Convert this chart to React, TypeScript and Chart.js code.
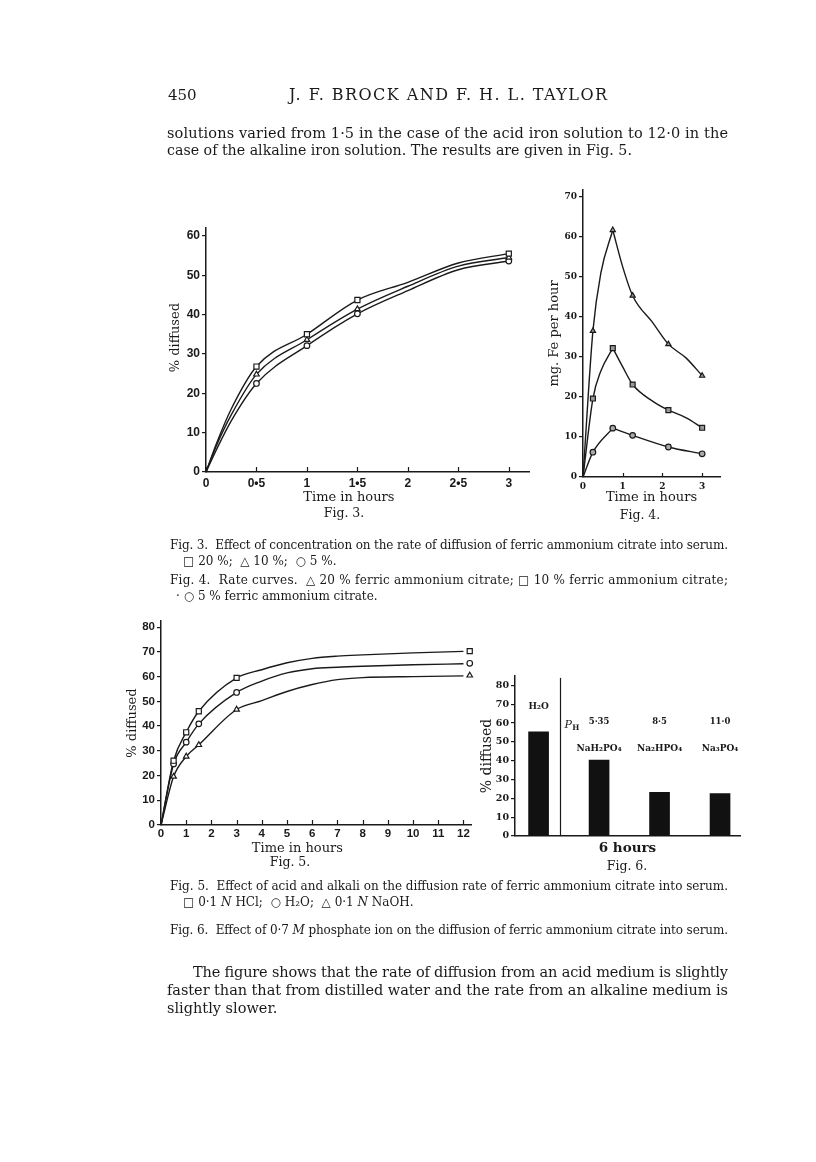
import React, { useEffect, useRef } from "react";
import { Chart, registerables } from "chart.js";

Chart.register(...registerables);

// ---------------- Fig. 3 data ----------------
const fig3XTicks = [0, 0.5, 1, 1.5, 2, 2.5, 3];
const fig3XTickLabels = ["0", "0•5", "1", "1•5", "2", "2•5", "3"];
const fig3YTicks = [0, 10, 20, 30, 40, 50, 60];
const fig3CurveX = [0, 0.1, 0.25, 0.5, 1, 1.5, 2, 2.5, 3];
const fig3Curve20 = [0, 7, 16, 26.8, 35, 43.7, 48.2, 53.1, 55.5];
const fig3Curve10 = [0, 6.5, 14.5, 24.8, 33.6, 41.4, 47.2, 52.3, 54.5];
const fig3Curve5 = [0, 5.5, 13, 22.5, 32.1, 40.2, 46.1, 51.4, 53.6];
const fig3PointX = [0.5, 1, 1.5, 3];
const fig3Points20 = [26.8, 35, 43.7, 55.5];
const fig3Points10 = [24.8, 33.6, 41.4, 54.5];
const fig3Points5 = [22.5, 32.1, 40.2, 53.6];

// ---------------- Fig. 4 data ----------------
const fig4XTicks = [0, 1, 2, 3];
const fig4YTicks = [0, 10, 20, 30, 40, 50, 60, 70];
const fig4PointX = [0.25, 0.75, 1.25, 2.15, 3];
const fig4Points20 = [36.5, 61.7, 45.3, 33.2, 25.3];
const fig4Points10 = [19.6, 32.2, 23.1, 16.7, 12.3];
const fig4Points5 = [6.2, 12.2, 10.4, 7.5, 5.8];
const fig4Rise20X = [0, 0.25, 0.45, 0.75];
const fig4Rise20 = [0, 36.5, 51, 61.7];
const fig4Fall20X = [0.75, 1.0, 1.25, 1.76, 2.15, 2.6, 3];
const fig4Fall20 = [61.7, 52.5, 45.3, 38.5, 33.2, 29.7, 25.3];
const fig4Rise10X = [0, 0.25, 0.45, 0.75];
const fig4Rise10 = [0, 19.6, 26.5, 32.2];
const fig4Fall10X = [0.75, 1.0, 1.25, 1.76, 2.15, 2.6, 3];
const fig4Fall10 = [32.2, 27.5, 23.1, 18.9, 16.7, 14.8, 12.3];
const fig4Rise5X = [0, 0.25, 0.75];
const fig4Rise5 = [0, 6.2, 12.2];
const fig4Fall5X = [0.75, 1.25, 2.15, 3];
const fig4Fall5 = [12.2, 10.4, 7.5, 5.8];

// ---------------- Fig. 5 data ----------------
const fig5XTicks = [0, 1, 2, 3, 4, 5, 6, 7, 8, 9, 10, 11, 12];
const fig5YTicks = [0, 10, 20, 30, 40, 50, 60, 70, 80];
const fig5CurveX = [0, 0.5, 1, 1.5, 3, 4, 5, 6, 7, 8, 10, 12];
const fig5CurveHCl = [0, 26, 37.5, 46, 59.5, 62.8, 65.6, 67.4, 68.3, 68.8, 69.6, 70.2];
const fig5CurveH2O = [0, 24.7, 33.5, 40.9, 53.6, 58.2, 61.5, 63.2, 63.8, 64.2, 64.8, 65.2];
const fig5CurveNaOH = [0, 19.6, 27.7, 32.4, 46.7, 50.3, 54, 56.8, 58.8, 59.6, 60, 60.3];
const fig5PointX = [0.5, 1, 1.5, 3, 12.25];
const fig5PointsHCl = [26, 37.5, 46, 59.5, 70.3];
const fig5PointsH2O = [24.7, 33.5, 40.9, 53.6, 65.4];
const fig5PointsNaOH = [19.6, 27.7, 32.4, 46.7, 60.5];

// ---------------- Fig. 6 data ----------------
const fig6Categories = ["H₂O", "NaH₂PO₄", "Na₂HPO₄", "Na₃PO₄"];
const fig6Values = [55.3, 40.3, 23.2, 22.5];
const fig6PH = ["", "5·35", "8·5", "11·0"];
const fig6YTicks = [0, 10, 20, 30, 40, 50, 60, 70, 80];

const INK = "#1a1a1a";
const SERIF = "'DejaVu Serif', serif";
const SANS = "'Liberation Sans', Arial, sans-serif";

const pts = (xs: number[], ys: number[]) => xs.map((x, i) => ({ x, y: ys[i] }));

const inwardTicks = {
  id: "inwardTicks",
  afterDraw(chart: any, _args: any, opts: any) {
    if (!opts || !opts.length) return;
    const xs = chart.scales.x;
    const { ctx, chartArea } = chart;
    ctx.save();
    ctx.strokeStyle = INK;
    ctx.lineWidth = 1.2;
    for (const t of xs.ticks) {
      const px = Math.round(xs.getPixelForValue(t.value)) + 0.5;
      ctx.beginPath();
      ctx.moveTo(px, chartArea.bottom);
      ctx.lineTo(px, chartArea.bottom - opts.length);
      ctx.stroke();
    }
    ctx.restore();
  },
};

function xAxis(o: any) {
  return {
    type: "linear",
    min: o.min,
    max: o.max,
    offset: false,
    afterBuildTicks: (s: any) => {
      s.ticks = o.ticks.map((v: number) => ({ value: v }));
    },
    afterFit: (s: any) => {
      s.height = o.height;
    },
    grid: { display: false, drawTicks: false, tickLength: 0 },
    border: { display: true, color: INK, width: 1.5 },
    ticks: {
      color: INK,
      font: o.font,
      padding: o.tickPad ?? 3,
      maxRotation: 0,
      autoSkip: false,
      callback: (_v: any, i: number) => (o.labels ? o.labels[i] : String(o.ticks[i])),
    },
    title: {
      display: true,
      text: o.title,
      color: INK,
      font: o.titleFont,
      padding: { top: 0, bottom: o.titlePad },
    },
  };
}

function yAxis(o: any) {
  return {
    type: "linear",
    min: o.min,
    max: o.max,
    afterBuildTicks: (s: any) => {
      s.ticks = o.ticks.map((v: number) => ({ value: v }));
    },
    afterFit: (s: any) => {
      s.width = o.width;
    },
    grid: {
      display: true,
      drawOnChartArea: false,
      drawTicks: true,
      tickLength: 4,
      color: INK,
      lineWidth: 1.2,
    },
    border: { display: true, color: INK, width: 1.5 },
    ticks: {
      color: INK,
      font: o.font,
      padding: 2,
      autoSkip: false,
      callback: (_v: any, i: number) => String(o.ticks[i]),
    },
    title: {
      display: true,
      text: o.title,
      color: INK,
      font: o.titleFont,
      padding: { top: o.titlePad, bottom: 0 },
    },
  };
}

function curve(xs: number[], ys: number[]) {
  return {
    type: "line",
    data: pts(xs, ys),
    borderColor: INK,
    borderWidth: 1.4,
    pointRadius: 0,
    cubicInterpolationMode: "monotone",
    fill: false,
    order: 2,
    clip: false,
  };
}

function markers(xs: number[], ys: number[], style: string, r: number, fillColor: string) {
  return {
    type: "line",
    data: pts(xs, ys),
    showLine: false,
    pointStyle: style,
    pointRadius: r,
    pointBorderWidth: 1.2,
    pointBorderColor: INK,
    pointBackgroundColor: fillColor,
    order: 1,
    clip: false,
  };
}

const commonOptions = (padTop: number, padRight: number) => ({
  responsive: false,
  animation: false,
  events: [],
  layout: { padding: { top: padTop, right: padRight, left: 0, bottom: 0 } },
  plugins: { legend: { display: false }, tooltip: { enabled: false } },
});

function makeFig3() {
  const tickFont = { family: SANS, size: 12, weight: "bold" };
  const titleFont = { family: SERIF, size: 13 };
  return {
    type: "line",
    data: {
      datasets: [
        markers(fig3PointX, fig3Points20, "rect", 3.6, "#fff"),
        markers(fig3PointX, fig3Points10, "triangle", 3.2, "#fff"),
        markers(fig3PointX, fig3Points5, "circle", 2.8, "#fff"),
        curve(fig3CurveX, fig3Curve20),
        curve(fig3CurveX, fig3Curve10),
        curve(fig3CurveX, fig3Curve5),
      ],
    },
    options: {
      ...commonOptions(13, 13),
      plugins: { legend: { display: false }, tooltip: { enabled: false }, inwardTicks: { length: 5 } },
      scales: {
        x: xAxis({
          min: 0, max: 3.2, ticks: fig3XTicks, labels: fig3XTickLabels, height: 43,
          font: tickFont, tickPad: 4,
          title: "Time in hours" + "\u00a0".repeat(9), titleFont, titlePad: 9.5,
        }),
        y: yAxis({
          min: 0, max: 62, ticks: fig3YTicks, width: 56, font: tickFont,
          title: "\u00a0".repeat(6) + "% diffused", titleFont, titlePad: 18,
        }),
      },
    },
    plugins: [inwardTicks],
  };
}

function makeFig4() {
  const tickFont = { family: SERIF, size: 9, weight: "bold" };
  const titleFont = { family: SERIF, size: 13 };
  return {
    type: "line",
    data: {
      datasets: [
        markers(fig4PointX, fig4Points20, "triangle", 3, "#999"),
        markers(fig4PointX, fig4Points10, "rect", 3.5, "#999"),
        markers(fig4PointX, fig4Points5, "circle", 2.8, "#aaa"),
        curve(fig4Rise20X, fig4Rise20),
        curve(fig4Fall20X, fig4Fall20),
        curve(fig4Rise10X, fig4Rise10),
        curve(fig4Fall10X, fig4Fall10),
        curve(fig4Rise5X, fig4Rise5),
        curve(fig4Fall5X, fig4Fall5),
      ],
    },
    options: {
      ...commonOptions(10, 10),
      plugins: { legend: { display: false }, tooltip: { enabled: false }, inwardTicks: { length: 4 } },
      scales: {
        x: xAxis({
          min: 0, max: 3.45, ticks: fig4XTicks, height: 38, font: tickFont, tickPad: 4,
          title: "Time in hours", titleFont, titlePad: 10,
        }),
        y: yAxis({
          min: 0, max: 71.7, ticks: fig4YTicks, width: 43, font: tickFont,
          title: "mg. Fe per hour", titleFont, titlePad: 7,
        }),
      },
    },
    plugins: [inwardTicks],
  };
}

function makeFig5() {
  const tickFont = { family: SANS, size: 11.5, weight: "bold" };
  const titleFont = { family: SERIF, size: 13 };
  return {
    type: "line",
    data: {
      datasets: [
        markers(fig5PointX, fig5PointsHCl, "rect", 3.6, "#fff"),
        markers(fig5PointX, fig5PointsH2O, "circle", 2.8, "#fff"),
        markers(fig5PointX, fig5PointsNaOH, "triangle", 3.2, "#fff"),
        curve(fig5CurveX, fig5CurveHCl),
        curve(fig5CurveX, fig5CurveH2O),
        curve(fig5CurveX, fig5CurveNaOH),
      ],
    },
    options: {
      ...commonOptions(11, 9),
      plugins: { legend: { display: false }, tooltip: { enabled: false }, inwardTicks: { length: 5 } },
      scales: {
        x: xAxis({
          min: 0, max: 12.3, ticks: fig5XTicks, height: 36, font: tickFont, tickPad: 2,
          title: "Time in hours" + "\u00a0".repeat(9), titleFont, titlePad: 5,
        }),
        y: yAxis({
          min: 0, max: 82.5, ticks: fig5YTicks, width: 41, font: tickFont,
          title: "% diffused", titleFont, titlePad: 5,
        }),
      },
    },
    plugins: [inwardTicks],
  };
}

const fig6WaterLevel = 68.6;
const fig6PHLevel = 60.6;
const fig6NameLevel = 46.5;
const fig6DividerAt = 0.35;
const fig6DividerTop = 84;
const fig6PHLabelAt = 0.55;

const fig6Labels = {
  id: "fig6Labels",
  afterDatasetsDraw(chart: any) {
    const xs = chart.scales.x;
    const ys = chart.scales.y;
    const ctx = chart.ctx;
    ctx.save();
    ctx.fillStyle = INK;
    ctx.strokeStyle = INK;
    ctx.textAlign = "center";
    ctx.textBaseline = "middle";
    ctx.font = `bold 9px ${SERIF}`;
    ctx.fillText(fig6Categories[0], xs.getPixelForValue(0), ys.getPixelForValue(fig6WaterLevel));
    for (let i = 1; i < fig6Categories.length; i++) {
      const px = xs.getPixelForValue(i);
      ctx.font = `bold 8.5px ${SERIF}`;
      ctx.fillText(fig6PH[i], px, ys.getPixelForValue(fig6PHLevel));
      ctx.font = `bold 9px ${SERIF}`;
      ctx.fillText(fig6Categories[i], px, ys.getPixelForValue(fig6NameLevel));
    }
    // pH label
    const phx = xs.getPixelForValue(fig6PHLabelAt);
    const phy = ys.getPixelForValue(fig6PHLevel - 1.5);
    ctx.textAlign = "right";
    ctx.font = `italic 11px ${SERIF}`;
    ctx.fillText("P", phx, phy);
    ctx.textAlign = "left";
    ctx.font = `bold 7.5px ${SERIF}`;
    ctx.fillText("H", phx + 0.5, phy + 3);
    // divider
    ctx.lineWidth = 1.2;
    const dx = Math.round(xs.getPixelForValue(fig6DividerAt)) + 0.5;
    ctx.beginPath();
    ctx.moveTo(dx, ys.getPixelForValue(0));
    ctx.lineTo(dx, ys.getPixelForValue(fig6DividerTop));
    ctx.stroke();
    ctx.restore();
  },
};

function makeFig6() {
  const tickFont = { family: SERIF, size: 9.5, weight: "bold" };
  return {
    type: "bar",
    data: {
      datasets: [
        {
          data: fig6Values.map((v, i) => ({ x: i, y: v })),
          backgroundColor: "#111",
          borderWidth: 0,
          barThickness: 20,
        },
      ],
    },
    options: {
      ...commonOptions(11, 8),
      scales: {
        x: {
          type: "linear",
          min: -0.39,
          max: 3.33,
          offset: false,
          afterFit: (s: any) => {
            s.height = 24;
          },
          grid: { display: false, drawTicks: false, offset: false },
          border: { display: true, color: INK, width: 1.5 },
          ticks: { display: false },
          title: {
            display: true,
            text: "6 hours",
            color: INK,
            font: { family: SERIF, size: 13.5, weight: "bold" },
            padding: { top: 0, bottom: 3.5 },
          },
        },
        y: yAxis({
          min: 0, max: 85, ticks: fig6YTicks, width: 37, font: tickFont,
          title: "% diffused", titleFont: { family: SERIF, size: 14 }, titlePad: 1,
        }),
      },
    },
    plugins: [fig6Labels],
  };
}

function ChartBox(props: { left: number; top: number; width: number; height: number; make: () => any }) {
  const ref = useRef<HTMLCanvasElement | null>(null);
  useEffect(() => {
    const chart = new Chart(ref.current as HTMLCanvasElement, props.make());
    return () => chart.destroy();
  }, []);
  return (
    <div style={{ position: "absolute", left: props.left, top: props.top, width: props.width, height: props.height }}>
      <canvas
        ref={ref}
        width={props.width}
        height={props.height}
        style={{ width: props.width, height: props.height, display: "block" }}
      />
    </div>
  );
}

function Line(props: { x: number; y: number; size: number; len?: number; anchor?: string; weight?: string; children: any }) {
  return (
    <text
      x={props.x}
      y={props.y}
      fontSize={props.size}
      textLength={props.len}
      lengthAdjust={props.len ? "spacing" : undefined}
      textAnchor={props.anchor || "start"}
      fontWeight={props.weight || "normal"}
      style={{ whiteSpace: "pre" }}
    >
      {props.children}
    </text>
  );
}

export default function App() {
  return (
    <div style={{ position: "absolute", left: 0, top: 0, width: 816, height: 1162, background: "#fff", overflow: "hidden" }}>
      <ChartBox left={150} top={215} width={392} height={300} make={makeFig3} />
      <ChartBox left={540} top={180} width={190} height={335} make={makeFig4} />
      <ChartBox left={120} top={610} width={360} height={251} make={makeFig5} />
      <ChartBox left={478} top={665} width={270} height={195} make={makeFig6} />
      <svg
        width={816}
        height={1162}
        style={{ position: "absolute", left: 0, top: 0, pointerEvents: "none" }}
        fontFamily={SERIF}
        fill={INK}
      >
        <Line x={168} y={100} size={15}>450</Line>
        <Line x={289} y={100} size={16} len={318}>J. F. BROCK AND F. H. L. TAYLOR</Line>
        <Line x={167} y={137.5} size={14.5} len={561}>solutions varied from 1·5 in the case of the acid iron solution to 12·0 in the</Line>
        <Line x={167} y={155} size={14.2}>case of the alkaline iron solution. The results are given in Fig. 5.</Line>

        <Line x={344} y={517} size={12.5} anchor="middle">Fig. 3.</Line>
        <Line x={640} y={519} size={12.5} anchor="middle">Fig. 4.</Line>
        <Line x={290} y={866} size={12.5} anchor="middle">Fig. 5.</Line>
        <Line x={627} y={870} size={12.5} anchor="middle">Fig. 6.</Line>

        <Line x={170} y={549} size={12} len={558}>Fig. 3.  Effect of concentration on the rate of diffusion of ferric ammonium citrate into serum.</Line>
        <Line x={183} y={565} size={12}>□ 20 %;  △ 10 %;  ○ 5 %.</Line>
        <Line x={170} y={584} size={12} len={558}>Fig. 4.  Rate curves.  △ 20 % ferric ammonium citrate; □ 10 % ferric ammonium citrate;</Line>
        <Line x={176} y={600} size={12}>· ○ 5 % ferric ammonium citrate.</Line>

        <Line x={170} y={890} size={12} len={558}>Fig. 5.  Effect of acid and alkali on the diffusion rate of ferric ammonium citrate into serum.</Line>
        <text x={183} y={906} fontSize={12} style={{ whiteSpace: "pre" }}>
          {"□ 0·1 "}<tspan fontStyle="italic">N</tspan>{" HCl;  ○ H₂O;  △ 0·1 "}<tspan fontStyle="italic">N</tspan>{" NaOH."}
        </text>
        <text x={170} y={934} fontSize={12} textLength={558} lengthAdjust="spacing" style={{ whiteSpace: "pre" }}>
          {"Fig. 6.  Effect of 0·7 "}<tspan fontStyle="italic">M</tspan>{" phosphate ion on the diffusion of ferric ammonium citrate into serum."}
        </text>

        <Line x={193} y={976.5} size={14.5} len={535}>The figure shows that the rate of diffusion from an acid medium is slightly</Line>
        <Line x={167} y={994.5} size={14.5} len={561}>faster than that from distilled water and the rate from an alkaline medium is</Line>
        <Line x={167} y={1012.5} size={14.5}>slightly slower.</Line>
      </svg>
    </div>
  );
}
